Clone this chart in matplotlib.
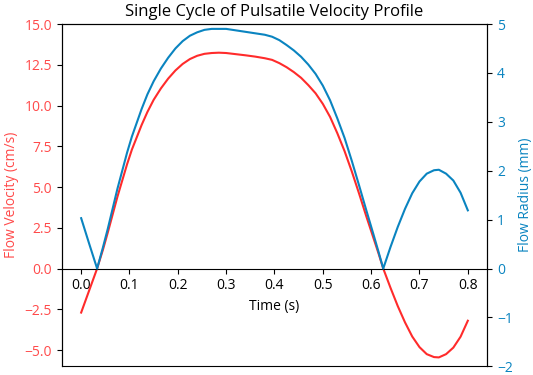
import matplotlib
matplotlib.use("Agg")
import matplotlib.pyplot as plt

plt.rcParams['font.family'] = ['Open Sans', 'DejaVu Sans']

time_s = [0.0, 0.0165, 0.033, 0.045, 0.055, 0.065, 0.075, 0.085, 0.095, 0.105,
          0.115, 0.125, 0.137, 0.15, 0.165, 0.18, 0.195, 0.21, 0.225, 0.24,
          0.255, 0.27, 0.285, 0.3, 0.32, 0.34, 0.36, 0.38, 0.395, 0.41,
          0.425, 0.44, 0.455, 0.47, 0.485, 0.5, 0.515, 0.53, 0.545, 0.56,
          0.575, 0.59, 0.605, 0.615, 0.625, 0.64, 0.655, 0.67, 0.685, 0.7,
          0.715, 0.73, 0.74, 0.755, 0.77, 0.785, 0.8]
velocity_cms = [-2.70, -1.35, 0.0, 1.15, 2.2, 3.3, 4.4, 5.4, 6.4, 7.3,
                8.05, 8.8, 9.6, 10.35, 11.05, 11.65, 12.15, 12.55, 12.85, 13.05,
                13.17, 13.22, 13.24, 13.22, 13.15, 13.08, 13.0, 12.9, 12.8, 12.6,
                12.35, 12.05, 11.7, 11.25, 10.75, 10.1, 9.3, 8.3, 7.2, 5.95,
                4.6, 3.2, 1.85, 0.95, 0.0, -1.18, -2.30, -3.30, -4.17, -4.82,
                -5.25, -5.43, -5.45, -5.25, -4.85, -4.18, -3.2]
radius_mm = [1.03, 0.51, 0.0, 0.43, 0.81, 1.22, 1.63, 2.0, 2.37, 2.70,
             2.98, 3.26, 3.56, 3.83, 4.09, 4.31, 4.50, 4.65, 4.76, 4.83,
             4.88, 4.90, 4.90, 4.90, 4.87, 4.84, 4.81, 4.78, 4.74, 4.67,
             4.57, 4.46, 4.33, 4.17, 3.98, 3.74, 3.44, 3.07, 2.67, 2.20,
             1.70, 1.19, 0.69, 0.35, 0.0, 0.44, 0.85, 1.22, 1.54, 1.78,
             1.94, 2.01, 2.02, 1.94, 1.80, 1.55, 1.19]

RED = '#ff2b2b'
RED_TXT = '#ff4a4a'
BLUE = '#0a84c0'

fig = plt.figure(figsize=(5.33, 3.75), dpi=100)
ax1 = fig.add_axes([0.116, 0.023, 0.798, 0.913])
ax1.plot(time_s, velocity_cms, color=RED, lw=1.5)
ax1.set_ylim(-6, 15)
ax1.set_yticks([-5.0, -2.5, 0.0, 2.5, 5.0, 7.5, 10.0, 12.5, 15.0])
ax1.set_xticks([0.0, 0.1, 0.2, 0.3, 0.4, 0.5, 0.6, 0.7, 0.8])
ax1.tick_params(axis='y', colors=RED_TXT, labelsize=10)
ax1.tick_params(axis='y', color='black')
ax1.tick_params(axis='x', labelsize=10)
ax1.spines['bottom'].set_position(('data', 0))
ax1.set_ylabel('Flow Velocity (cm/s)', color=RED_TXT, fontsize=10)
ax1.set_xlabel('Time (s)', fontsize=10)
ax1.set_title('Single Cycle of Pulsatile Velocity Profile', fontsize=12)

ax2 = ax1.twinx()
ax2.plot(time_s, radius_mm, color=BLUE, lw=1.5)
ax2.set_ylim(-2, 5)
ax2.set_yticks([-2, -1, 0, 1, 2, 3, 4, 5])
ax2.tick_params(axis='y', labelcolor=BLUE, labelsize=10)
ax2.set_ylabel('Flow Radius (mm)', color=BLUE, fontsize=10)

fig.savefig('out.png', dpi=100)
